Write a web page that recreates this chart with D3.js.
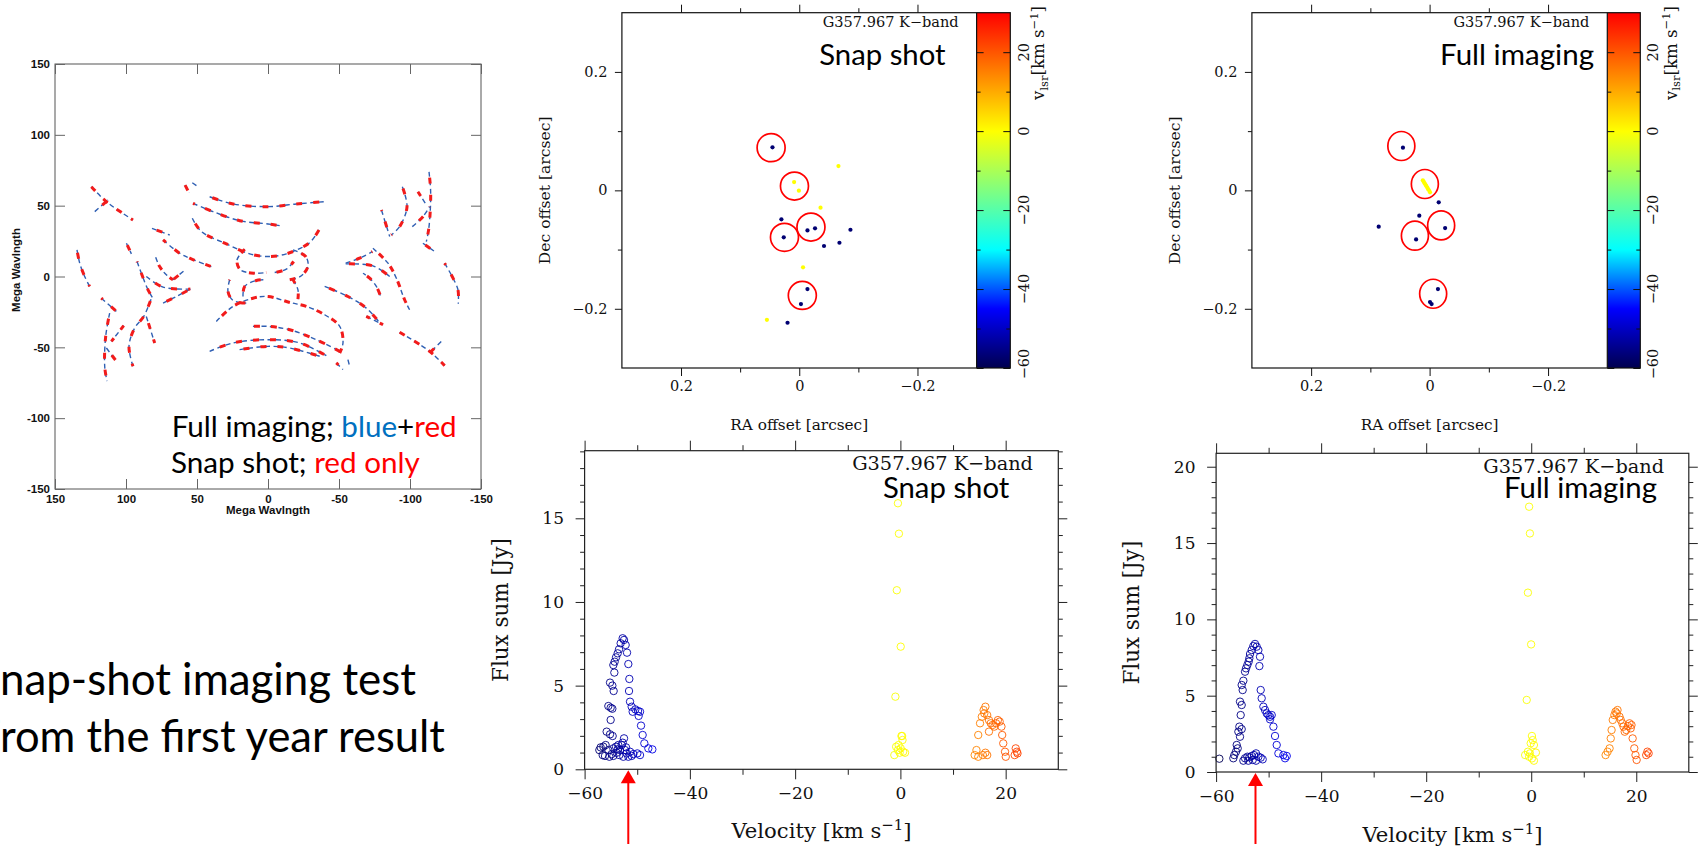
<!DOCTYPE html>
<html>
<head>
<meta charset="utf-8">
<title>Snap-shot imaging test</title>
<script src="https://cdn.jsdelivr.net/npm/d3@7/dist/d3.min.js"></script>
<style>
    html, body { margin: 0; padding: 0; background: #fff; overflow: hidden; }
    svg { display: block; }
</style>
</head>
<body>
<div class="svg-container"></div>
<script>
// ---------------------------------------------------------------
// Data
// ---------------------------------------------------------------

// uv coverage [u, v] in Mega wavelength, one array per baseline track
const uvTicks = [150, 100, 50, 0, -50, -100, -150];
const uvTracks = [
    [[124.4, 63.4], [113.8, 52.8], [95.1, 39.9]],
    [[122.0, 45.8], [112.7, 54.0]],
    [[134.5, 18.8], [132.6, 9.4], [129.1, 0], [125.6, -7.0]],
    [[117.4, -15.3], [106.8, -24.6]],
    [[111.5, -25.8], [114.3, -42.2], [115.0, -63.4], [113.4, -73.9]],
    [[101.6, -34.7], [110.3, -45.8]],
    [[113.8, -50.5], [106.8, -59.8]],
    [[99.7, 23.5], [96.2, 16.0]],
    [[92.2, 10.6], [89.2, 2.3], [84.5, -9.4], [80.5, -16.4]],
    [[81.7, 34.0], [69.2, 29.3]],
    [[73.9, 25.8], [62.2, 16.4], [55.2, 12.9], [39.9, 7.0]],
    [[79.1, 13.6], [76.3, 7.0], [71.6, 1.2], [66.9, -2.3]],
    [[66.9, -2.3], [59.4, 3.8]],
    [[85.7, 0], [73.9, -7.5], [54.7, -8.9]],
    [[73.9, -18.8], [64.5, -14.1], [54.7, -8.9]],
    [[95.1, -63.4], [97.9, -49.3], [93.9, -36.4], [87.5, -28.2], [82.1, -15.3]],
    [[85.7, -28.2], [79.8, -46.9]],
    [[58.4, 64.5], [55.6, 59.1]],
    [[53.3, 66.2], [48.6, 62.9]],
    [[41.1, 56.3], [24.6, 51.2], [0, 49.3], [-19.9, 51.2], [-39.9, 52.8]],
    [[52.8, 51.6], [38.7, 45.8], [19.9, 39.4], [0, 37.1], [-9.4, 35.7]],
    [[53.3, 41.1], [46.9, 31.7], [29.3, 23.0], [12.9, 16.0], [0, 14.1], [-12.9, 16.0], [-29.3, 23.9], [-35.9, 32.9]],
    [[16.4, 19.2], [21.8, 11.7], [19.5, 4.7], [9.4, 2.3], [1.2, 2.8]],
    [[-17.6, 18.8], [-26.5, 14.1], [-28.2, 7.5], [-23.5, 0.5], [-15.3, -2.3]],
    [[-4.7, 2.8], [-12.9, 5.2], [-18.1, 10.6]],
    [[27.0, -2.3], [28.2, -10.6], [24.6, -16.9], [15.3, -18.8]],
    [[17.6, -14.1], [16.4, -7.0], [8.2, -2.8], [1.2, -2.3]],
    [[-17.6, -2.3], [-21.1, -9.4], [-21.1, -16.0]],
    [[36.4, -31.7], [24.6, -21.1], [10.6, -15.3], [0, -14.1], [-15.3, -18.3], [-27.0, -21.1], [-39.9, -27.0], [-50.5, -35.2], [-52.8, -46.9], [-50.5, -54.0]],
    [[10.6, -35.2], [0, -35.2], [-15.3, -37.6], [-34.0, -44.6], [-50.5, -52.8]],
    [[41.1, -52.8], [24.6, -46.9], [0, -44.6], [-22.3, -46.9], [-41.1, -55.9]],
    [[20.0, -51.6], [0, -49.3], [-15.3, -50.5], [-36.4, -56.3]],
    [[-48.1, -61.0], [-52.8, -65.7]],
    [[-56.3, -58.7], [-57.5, -63.4]],
    [[-92.7, -39.4], [-113.8, -52.8], [-124.4, -62.9]],
    [[-122.0, -45.8], [-113.8, -54.0]],
    [[-109.1, 23.5], [-117.4, 17.6]],
    [[-124.4, 9.4], [-130.3, -1.2], [-133.8, -9.4], [-134.0, -19.2]],
    [[-113.4, 73.9], [-114.5, 61.0], [-114.3, 46.9], [-113.1, 32.9], [-111.5, 24.6]],
    [[-105.6, 59.8], [-111.5, 50.5]],
    [[-101.6, 35.2], [-109.1, 42.2], [-113.8, 49.3]],
    [[-94.6, 63.4], [-97.9, 49.3], [-92.7, 35.2], [-86.8, 29.3]],
    [[-79.9, 46.9], [-85.7, 28.2]],
    [[-39.9, -7.0], [-56.3, -14.1], [-69.2, -22.3], [-79.8, -34.0]],
    [[-69.2, -28.2], [-81.0, -34.0]],
    [[-73.9, 19.9], [-84.5, 9.4], [-90.4, -1.2], [-96.2, -16.4], [-99.7, -23.5]],
    [[-79.1, -13.4], [-76.3, -7.0], [-71.6, -1.2], [-66.9, 2.3]],
    [[-54.7, 9.4], [-64.5, 12.9], [-73.5, 17.6]],
    [[-85.7, 0], [-73.9, 7.5], [-54.7, 8.9]]
];

// maser spot maps: [RA offset, Dec offset, vlsr]
const offsetTicks = [0.2, 0, -0.2];
const offsetMinorTicks = [0.1, -0.1];
const barTicks = [20, 0, -20, -40, -60];
const barMinorTicks = [10, -10, -30, -50];
const snapSpots = [
    [0.0453, 0.0727, -57], [-0.0663, 0.041, 0], [0.0087, 0.014, 0], [0.0006, -0.0006, 0],
    [-0.036, -0.0293, 0], [0.0302, -0.049, -57], [-0.0139, -0.0676, -57], [-0.0267, -0.0642, -57],
    [-0.0866, -0.0665, -57], [0.0262, -0.0794, -57], [-0.0419, -0.094, -57], [-0.068, -0.0885, -57],
    [-0.0064, -0.130, 0], [-0.0139, -0.1667, -57], [-0.0029, -0.192, -57], [0.0547, -0.2186, 0],
    [0.0198, -0.2236, -57]
];
const snapCircles = [[0.0476, 0.0721], [0.0081, 0.0073], [-0.0198, -0.062], [0.025, -0.0794], [-0.0052, -0.1775]];
const fullSpots = [
    [0.045, 0.0721, -57], [0.0114, 0.0169, 0], [0.0100, 0.0146, 0], [0.0087, 0.0124, 0],
    [0.0073, 0.0101, 0], [0.006, 0.0079, 0], [0.0040, 0.0050, 0], [0.0027, 0.0023, 0],
    [0.0010, 0.0000, 0], [-0.0007, -0.0034, 0], [-0.0154, -0.0203, -57], [0.0174, -0.0428, -57],
    [0.0859, -0.0614, -57], [-0.0262, -0.0637, -57], [0.0228, -0.0828, -57], [-0.0141, -0.1668, -57],
    [-0.0007, -0.1887, -57], [-0.0034, -0.1921, -57]
];
const fullCircles = [[0.0477, 0.0749], [0.008, 0.0107], [-0.0195, -0.0592], [0.0248, -0.0766], [-0.006, -0.1746]];

// spectra: [velocity, flux sum]
const velocityTicks = [-60, -40, -20, 0, 20];
const velocityMinorTicks = [-50, -30, -10, 10];
const snapFluxTicks = [0, 5, 10, 15];
const fullFluxTicks = [0, 5, 10, 15, 20];
const snapFluxRange = [0, 19.04];
const fullFluxRange = [0, 20.88];
const snapSpectrum = [
    [-52.77, 7.83], [-53.15, 7.53], [-53.46, 7.17], [-53.72, 6.93], [-54.03, 6.69], [-54.29, 6.43],
    [-54.54, 6.23], [-54.35, 5.78], [-55.17, 5.18], [-54.73, 5.00], [-54.48, 4.68], [-55.49, 3.78],
    [-55.05, 3.68], [-54.73, 3.62], [-55.05, 2.95], [-55.81, 2.25], [-55.17, 2.09], [-54.67, 1.99],
    [-52.51, 7.73], [-52.20, 7.43], [-51.94, 6.97], [-51.69, 6.29], [-51.50, 5.40], [-51.56, 4.68],
    [-51.37, 4.04], [-51.06, 3.74], [-50.87, 3.44], [-50.36, 3.58], [-49.85, 3.48], [-49.47, 3.44],
    [-49.73, 3.19], [-49.28, 2.61], [-48.97, 2.05], [-48.65, 1.55], [-47.89, 1.25], [-47.13, 1.19],
    [-56.44, 1.35], [-56.00, 1.45], [-56.57, 0.85], [-56.12, 0.80], [-55.49, 1.15], [-54.86, 0.91],
    [-54.54, 1.25], [-54.03, 1.35], [-53.59, 1.45], [-53.27, 1.15], [-52.77, 1.59], [-52.51, 1.85],
    [-52.96, 1.45], [-53.91, 0.99], [-52.13, 1.31], [-52.01, 0.95], [-51.37, 1.05], [-50.74, 0.91],
    [-49.98, 0.95], [-49.47, 0.85], [-55.30, 0.75], [-54.54, 0.80], [-53.40, 0.85], [-52.64, 0.75],
    [-51.69, 0.75], [-57.20, 1.15], [-56.95, 1.31], [-51.06, 0.80], [-52.32, 1.15], [-53.72, 1.19],
    [-0.47, 15.90], [-0.28, 14.08], [-0.68, 10.70], [0.06, 7.33], [-0.95, 4.34], [0.20, 1.99],
    [0.40, 1.75], [-0.34, 1.45], [-0.81, 1.35], [0.06, 1.25], [0.53, 1.05], [-1.16, 0.85],
    [-0.15, 0.99], [0.88, 0.99], [-0.47, 1.15], [0.33, 1.99],
    [14.11, 0.85], [14.45, 1.15], [14.79, 2.05], [15.13, 2.75], [15.47, 3.14], [15.81, 3.54],
    [16.15, 3.74], [15.94, 3.34], [16.49, 3.24], [16.83, 2.94], [17.17, 2.75], [17.51, 2.65],
    [17.84, 2.55], [18.18, 2.75], [18.52, 2.94], [18.86, 2.85], [19.20, 2.55], [19.34, 2.05],
    [19.54, 1.55], [19.88, 1.05], [20.02, 0.75], [16.49, 0.85], [16.15, 0.99], [15.67, 0.85],
    [14.79, 0.75], [21.91, 1.25], [22.12, 1.05], [21.71, 0.85], [22.25, 0.95], [16.83, 2.25]
];
const fullSpectrum = [
    [-52.59, 8.39], [-52.91, 8.25], [-52.27, 8.21], [-53.22, 7.99], [-51.95, 7.99], [-53.54, 7.73],
    [-53.67, 7.45], [-53.80, 7.23], [-54.05, 7.01], [-54.30, 6.79], [-54.49, 6.57], [-54.81, 5.98],
    [-55.13, 5.70], [-54.94, 5.37], [-55.45, 4.61], [-55.13, 4.39], [-55.32, 3.73], [-55.57, 2.97],
    [-55.13, 2.81], [-55.76, 2.64], [-55.45, 2.31], [-56.08, 1.77], [-55.89, 1.55], [-56.21, 1.33],
    [-56.53, 1.11], [-56.72, 0.90], [-51.64, 7.55], [-51.76, 6.94], [-51.51, 5.37], [-51.32, 4.83],
    [-51.00, 4.28], [-50.68, 4.06], [-50.36, 3.84], [-50.05, 3.73], [-49.73, 3.62], [-49.41, 3.73],
    [-49.73, 3.45], [-49.09, 2.97], [-48.78, 2.36], [-48.46, 1.77], [-48.14, 1.22], [-47.19, 1.11],
    [-46.55, 1.05], [-46.87, 0.90], [-54.49, 0.90], [-54.05, 1.00], [-53.67, 0.96], [-53.22, 1.05],
    [-52.78, 1.11], [-52.40, 1.22], [-51.95, 1.00], [-51.51, 0.94], [-51.13, 0.83], [-53.03, 0.79],
    [-52.40, 0.74], [-53.86, 0.74], [-54.81, 0.74], [-59.38, 0.87],
    [-0.40, 17.38], [-0.25, 15.63], [-0.63, 11.75], [-0.02, 8.36], [-0.86, 4.72], [0.13, 2.36],
    [0.28, 2.09], [-0.10, 1.88], [0.51, 1.77], [-0.63, 1.33], [-1.16, 1.11], [-0.25, 1.22],
    [0.89, 1.27], [0.13, 0.89], [0.51, 0.74], [-0.40, 1.00],
    [14.16, 1.11], [14.54, 1.33], [14.92, 1.55], [15.14, 2.20], [15.30, 2.75], [15.52, 3.41],
    [15.83, 3.73], [16.05, 3.95], [16.43, 4.06], [16.28, 3.84], [16.81, 3.62], [17.04, 3.41],
    [17.34, 3.19], [17.57, 2.97], [17.80, 2.64], [18.10, 2.75], [18.41, 3.01], [18.71, 3.19],
    [19.09, 3.08], [18.94, 2.86], [19.31, 2.20], [19.62, 1.55], [19.85, 1.11], [20.07, 0.79],
    [22.12, 1.33], [22.35, 1.22], [21.89, 1.11]
];
// velocity marked with the red arrow [snap shot, full imaging]
const markedVelocity = [-51.7, -52.5];

/**
 * Slide Manager
 *          draws the uv coverage, the two spot maps and the two spectra
 */
const slideManager = (() => {
    // Constant
    const SCREEN = { WIDTH: 1704, HEIGHT: 846 };
    const SERIF = '"DejaVu Serif", serif';
    const SANS = 'Lato, "Open Sans", sans-serif';
    const ARIAL = '"Liberation Sans", Arial, sans-serif';
    const MAP = { TOP: 12.7, BOTTOM: 368 };

    // jet colour table used by the colour bars and by the markers
    const JET = [[-60, '#00004f'], [-45, '#0000ff'], [-30, '#00ffff'], [-15, '#80ff80'],
                 [0, '#ffff00'], [15, '#ff8000'], [30, '#ff0000']];
    const jet = d3.scaleLinear()
                  .domain(JET.map(d => d[0]))
                  .range(JET.map(d => d[1]))
                  .clamp(true);

    const fmtOffset = d => d === 0 ? '0' : d3.format('.1f')(d);

    /**
     * Init SVG
     * @return {Object} svg
     */
    const initSVG = () => {
        let svg = d3.select('.svg-container').append('svg')
                    .attr('width', SCREEN.WIDTH)
                    .attr('height', SCREEN.HEIGHT);
        svg.append('rect').attr('width', SCREEN.WIDTH).attr('height', SCREEN.HEIGHT).attr('fill', '#fff');
        svg.append('defs');
        return svg;
    };

    /**
     * Scale the font size so the text takes the given width
     */
    const fitText = (sel, width) => {
        const len = sel.node().getComputedTextLength();
        if (len > 0) sel.attr('font-size', (+sel.attr('font-size')) * width / len);
        return sel;
    };

    /**
     * Append a text, rotated or not
     */
    const addText = (g, o) => {
        let t = g.append('text')
                 .attr('font-family', o.family || SERIF)
                 .attr('font-size', o.size)
                 .attr('fill', o.fill || '#111')
                 .attr('text-anchor', o.anchor || 'start')
                 .style('white-space', 'pre');
        if (o.rotate) {
            t.attr('transform', `translate(${o.x},${o.y}) rotate(-90)`).attr('dy', '0.35em');
        } else {
            t.attr('x', o.x).attr('y', o.y);
        }
        if (o.text) t.text(o.text);
        return t;
    };

    const velocityLabel = (g, o) => {
        let t = addText(g, o);
        t.append('tspan').text('Velocity [km s');
        t.append('tspan').text('\u22121').style('font-size', '70%').attr('dy', '-0.55em');
        t.append('tspan').text(']').attr('dy', '0.385em');
        return fitText(t, o.width);
    };

    const vlsrLabel = (g, o) => {
        let t = addText(g, o);
        t.append('tspan').text('v');
        t.append('tspan').text('lsr').style('font-size', '70%').attr('dy', '0.3em');
        t.append('tspan').text('[km s').attr('dy', '-0.21em');
        t.append('tspan').text('\u22121').style('font-size', '70%').attr('dy', '-0.55em');
        t.append('tspan').text(']').attr('dy', '0.385em');
        return fitText(t, o.width);
    };

    /**
     * Draw an axis, strip the domain line and the empty labels
     */
    const drawAxis = (g, axis, transform, stroke = '#111') => {
        let a = g.append('g').attr('transform', transform).call(axis);
        a.select('.domain').remove();
        a.selectAll('.tick line').attr('stroke', stroke).attr('stroke-width', 1);
        a.selectAll('.tick text').filter(function () { return this.textContent === ''; }).remove();
        return a;
    };

    /**
     * uv coverage
     */
    const drawUV = (svg) => {
        const box = { left: 55, right: 481, top: 64, bottom: 489 };
        const x = d3.scaleLinear().domain([150, -150]).range([box.left, box.right]);
        const y = d3.scaleLinear().domain([150, -150]).range([box.top, box.bottom]);
        let g = svg.append('g').attr('id', 'uv-plot');

        const line = d3.line().x(d => x(d[0])).y(d => y(d[1])).curve(d3.curveCatmullRom);

        // full imaging tracks
        g.selectAll('.track').data(uvTracks).enter()
         .append('path')
         .attr('d', line)
         .attr('fill', 'none')
         .attr('stroke', '#2f5fb3')
         .attr('stroke-width', 1.4)
         .attr('stroke-dasharray', '5,3.5');

        // snap shot scans on top
        g.selectAll('.snap').data(uvTracks).enter()
         .append('path')
         .attr('d', line)
         .attr('fill', 'none')
         .attr('stroke', '#f21b1b')
         .attr('stroke-width', 3)
         .attr('stroke-dasharray', '6,11')
         .attr('stroke-dashoffset', (d, i) => (i * 7) % 17);

        g.append('rect')
         .attr('x', box.left).attr('y', box.top)
         .attr('width', box.right - box.left).attr('height', box.bottom - box.top)
         .attr('fill', 'none').attr('stroke', '#555').attr('stroke-width', 1);

        const fmt = d => String(d);
        let bottom = drawAxis(g, d3.axisBottom(x).tickValues(uvTicks).tickSize(-10).tickFormat(fmt), `translate(0,${box.bottom})`, '#666');
        bottom.selectAll('text').attr('y', 14).attr('dy', null);
        drawAxis(g, d3.axisTop(x).tickValues(uvTicks).tickSize(-10).tickFormat(''), `translate(0,${box.top})`, '#666');
        let left = drawAxis(g, d3.axisLeft(y).tickValues(uvTicks).tickSize(-10).tickFormat(fmt), `translate(${box.left},0)`, '#666');
        left.selectAll('text').attr('x', -5);
        drawAxis(g, d3.axisRight(y).tickValues(uvTicks).tickSize(-10).tickFormat(''), `translate(${box.right},0)`, '#666');
        g.selectAll('.tick text')
         .attr('font-family', ARIAL).attr('font-size', 11.5).attr('font-weight', 'bold').attr('fill', '#111');

        addText(g, { x: (box.left + box.right) / 2, y: 514, size: 11.5, family: ARIAL, anchor: 'middle', text: 'Mega Wavlngth' })
            .attr('font-weight', 'bold');
        addText(g, { x: 16, y: 270, size: 11.5, family: ARIAL, anchor: 'middle', rotate: true, text: 'Mega Wavlngth' })
            .attr('font-weight', 'bold');

        // legend written on the slide
        let l1 = addText(g, { x: 171.7, y: 436.7, size: 29, family: SANS, fill: '#000' });
        l1.append('tspan').text('Full imaging; ');
        l1.append('tspan').text('blue').attr('fill', '#0070c0');
        l1.append('tspan').text('+');
        l1.append('tspan').text('red').attr('fill', '#ff0000');
        fitText(l1, 285);
        let l2 = addText(g, { x: 171, y: 473.3, size: 29, family: SANS, fill: '#000' });
        l2.append('tspan').text('Snap shot; ');
        l2.append('tspan').text('red only').attr('fill', '#ff0000');
        fitText(l2, 249);
    };

    /**
     * Spot map with colour bar
     */
    const drawMap = (svg, cfg) => {
        const x = d3.scaleLinear().domain([0.3, -0.3]).range([cfg.left, cfg.right]);
        const y = d3.scaleLinear().domain([-0.3, 0.3]).range([MAP.BOTTOM, MAP.TOP]);
        const v = d3.scaleLinear().domain([-60, 30]).range([MAP.BOTTOM, MAP.TOP]);
        let g = svg.append('g').attr('id', `map-${cfg.id}`);

        // colour bar
        let grad = svg.select('defs').append('linearGradient')
                      .attr('id', `bar-${cfg.id}`)
                      .attr('x1', 0).attr('y1', 1).attr('x2', 0).attr('y2', 0);
        grad.selectAll('stop').data(JET).enter().append('stop')
            .attr('offset', d => (v(-60) - v(d[0])) / (v(-60) - v(30)))
            .attr('stop-color', d => d[1]);
        g.append('rect')
         .attr('x', cfg.right).attr('y', MAP.TOP)
         .attr('width', cfg.barRight - cfg.right).attr('height', MAP.BOTTOM - MAP.TOP)
         .attr('fill', `url(#bar-${cfg.id})`);

        drawAxis(g, d3.axisRight(v).tickValues(barTicks).tickSize(7).tickFormat(''), `translate(${cfg.right},0)`);
        drawAxis(g, d3.axisRight(v).tickValues(barMinorTicks).tickSize(4).tickFormat(''), `translate(${cfg.right},0)`);
        drawAxis(g, d3.axisLeft(v).tickValues(barTicks).tickSize(7).tickFormat(''), `translate(${cfg.barRight},0)`);
        drawAxis(g, d3.axisLeft(v).tickValues(barMinorTicks).tickSize(4).tickFormat(''), `translate(${cfg.barRight},0)`);

        g.selectAll('.bar-label').data(barTicks).enter()
         .append('text')
         .attr('transform', d => `translate(${cfg.barLabelX},${Math.min(v(d), MAP.BOTTOM - 4)}) rotate(-90)`)
         .attr('dy', '0.35em')
         .attr('text-anchor', 'middle')
         .attr('font-family', SERIF).attr('font-size', 14.5).attr('fill', '#111')
         .text(d => d3.format('d')(d));
        vlsrLabel(g, { x: cfg.barTitleX, y: 53, size: 14, rotate: true, anchor: 'middle', width: 94 });

        // spots and red circles
        g.selectAll('.spot').data(cfg.spots).enter()
         .append('circle')
         .attr('cx', d => x(d[0])).attr('cy', d => y(d[1]))
         .attr('r', 2.1)
         .attr('fill', d => jet(d[2]));
        g.selectAll('.ring').data(cfg.circles).enter()
         .append('ellipse')
         .attr('cx', d => x(d[0])).attr('cy', d => y(d[1]))
         .attr('rx', cfg.rx).attr('ry', cfg.ry)
         .attr('fill', 'none').attr('stroke', '#ff0000').attr('stroke-width', 1.7);

        // frame and ticks
        g.append('rect')
         .attr('x', cfg.left).attr('y', MAP.TOP)
         .attr('width', cfg.barRight - cfg.left).attr('height', MAP.BOTTOM - MAP.TOP)
         .attr('fill', 'none').attr('stroke', '#111').attr('stroke-width', 1.2);
        g.append('line')
         .attr('x1', cfg.right).attr('x2', cfg.right).attr('y1', MAP.TOP).attr('y2', MAP.BOTTOM)
         .attr('stroke', '#111').attr('stroke-width', 1.2);

        let bx = drawAxis(g, d3.axisBottom(x).tickValues(offsetTicks).tickSize(8).tickFormat(fmtOffset), `translate(0,${MAP.BOTTOM})`);
        bx.selectAll('text').attr('y', 23).attr('dy', null);
        drawAxis(g, d3.axisBottom(x).tickValues(offsetMinorTicks).tickSize(4.5).tickFormat(''), `translate(0,${MAP.BOTTOM})`);
        drawAxis(g, d3.axisTop(x).tickValues(offsetTicks).tickSize(8).tickFormat(''), `translate(0,${MAP.TOP})`);
        drawAxis(g, d3.axisTop(x).tickValues(offsetMinorTicks).tickSize(4.5).tickFormat(''), `translate(0,${MAP.TOP})`);
        let ly = drawAxis(g, d3.axisLeft(y).tickValues(offsetTicks).tickSize(7).tickFormat(fmtOffset), `translate(${cfg.left},0)`);
        ly.selectAll('text').attr('x', -14.5);
        drawAxis(g, d3.axisLeft(y).tickValues(offsetMinorTicks).tickSize(4).tickFormat(''), `translate(${cfg.left},0)`);
        g.selectAll('.tick text').attr('font-family', SERIF).attr('font-size', 14.5).attr('fill', '#111');

        fitText(addText(g, { x: cfg.decX, y: (MAP.TOP + MAP.BOTTOM) / 2, size: 14, rotate: true, anchor: 'middle', text: 'Dec offset [arcsec]' }), 148);
        fitText(addText(g, { x: (cfg.left + cfg.right) / 2, y: 430, size: 14, anchor: 'middle', text: 'RA offset [arcsec]' }), 138);

        fitText(addText(g, { x: cfg.right - 18, y: 27.3, size: 15, anchor: 'end', text: 'G357.967 K\u2212band' }), 136);
        fitText(addText(g, { x: cfg.titleEnd, y: 65, size: 27, family: SANS, anchor: 'end', fill: '#000', text: cfg.title }), cfg.titleWidth);
    };

    /**
     * Flux spectrum with the red arrow
     */
    const drawSpectrum = (svg, cfg) => {
        const x = d3.scaleLinear().domain([-60, 30]).range([cfg.left, cfg.right]);
        const y = d3.scaleLinear().domain(cfg.range).range([cfg.bottom, cfg.top]);
        let g = svg.append('g').attr('id', `spec-${cfg.id}`);

        g.selectAll('.chan').data(cfg.data).enter()
         .append('circle')
         .attr('cx', d => x(d[0])).attr('cy', d => y(d[1]))
         .attr('r', 3.7)
         .attr('fill', 'none')
         .attr('stroke', d => jet(d[0]))
         .attr('stroke-width', 0.9);

        g.append('rect')
         .attr('x', cfg.left).attr('y', cfg.top)
         .attr('width', cfg.right - cfg.left).attr('height', cfg.bottom - cfg.top)
         .attr('fill', 'none').attr('stroke', '#222').attr('stroke-width', 1.2);

        const minorFlux = d3.range(1, cfg.range[1], 1).filter(d => d % 5 !== 0);
        let bx = drawAxis(g, d3.axisBottom(x).tickValues(velocityTicks).tickSize(10).tickFormat(d3.format('d')), `translate(0,${cfg.bottom})`, '#222');
        bx.selectAll('text').attr('y', cfg.xLabelDy).attr('dy', null);
        drawAxis(g, d3.axisBottom(x).tickValues(velocityMinorTicks).tickSize(5.5).tickFormat(''), `translate(0,${cfg.bottom})`, '#222');
        drawAxis(g, d3.axisTop(x).tickValues(velocityTicks).tickSize(10).tickFormat(''), `translate(0,${cfg.top})`, '#222');
        drawAxis(g, d3.axisTop(x).tickValues(velocityMinorTicks).tickSize(5.5).tickFormat(''), `translate(0,${cfg.top})`, '#222');
        let ly = drawAxis(g, d3.axisLeft(y).tickValues(cfg.ticks).tickSize(9).tickFormat(d3.format('d')), `translate(${cfg.left},0)`, '#222');
        ly.selectAll('text').attr('x', -20.6);
        drawAxis(g, d3.axisLeft(y).tickValues(minorFlux).tickSize(4.5).tickFormat(''), `translate(${cfg.left},0)`, '#222');
        drawAxis(g, d3.axisRight(y).tickValues(cfg.ticks).tickSize(9).tickFormat(''), `translate(${cfg.right},0)`, '#222');
        drawAxis(g, d3.axisRight(y).tickValues(minorFlux).tickSize(4.5).tickFormat(''), `translate(${cfg.right},0)`, '#222');
        g.selectAll('.tick text').attr('font-family', SERIF).attr('font-size', 17).attr('fill', '#111');

        fitText(addText(g, { x: cfg.fluxX, y: (cfg.top + cfg.bottom) / 2, size: 17, rotate: true, anchor: 'middle', text: 'Flux sum [Jy]' }), 144);
        velocityLabel(g, { x: (cfg.left + cfg.right) / 2, y: cfg.velY, size: 17, anchor: 'middle', width: 180 });

        fitText(addText(g, { x: cfg.tagEnd, y: cfg.tagY, size: 18, anchor: 'end', text: 'G357.967 K\u2212band' }), 181);
        fitText(addText(g, { x: cfg.titleEnd, y: 498.3, size: 27, family: SANS, anchor: 'end', fill: '#000', text: cfg.title }), cfg.titleWidth);

        // red arrow
        const ax = x(cfg.arrow);
        g.append('line')
         .attr('x1', ax).attr('x2', ax)
         .attr('y1', 844).attr('y2', cfg.bottom + 12)
         .attr('stroke', '#ff0000').attr('stroke-width', 2);
        g.append('path')
         .attr('d', `M${ax},${cfg.bottom + 1}L${ax - 7.5},${cfg.bottom + 14}L${ax + 7.5},${cfg.bottom + 14}Z`)
         .attr('fill', '#ff0000');
    };

    /**
     * Slide caption, partly cut by the left edge
     */
    const drawCaption = (svg) => {
        const lines = [
            { text: 'Snap-shot imaging test', y: 695, visible: 416 },
            { text: 'from the first year result', y: 751.7, visible: 445 }
        ];
        lines.forEach(l => {
            let t = addText(svg, { x: 0, y: l.y, size: 44, family: SANS, fill: '#000', text: l.text });
            const sub = t.node().getSubStringLength(1, l.text.length - 1);
            t.attr('font-size', 44 * l.visible / sub);
            t.attr('x', -t.node().getSubStringLength(0, 1));
        });
    };

    /**
     * Init
     */
    const init = () => {
        let svg = initSVG();
        drawUV(svg);
        drawCaption(svg);
        drawMap(svg, {
            id: 'snap', left: 621.9, right: 976.6, barRight: 1010.3, barLabelX: 1024.3, barTitleX: 1038.3,
            decX: 544.7, spots: snapSpots, circles: snapCircles, rx: 14, ry: 14,
            title: 'Snap shot', titleEnd: 945.6, titleWidth: 126.4
        });
        drawMap(svg, {
            id: 'full', left: 1251.9, right: 1607.3, barRight: 1640.3, barLabelX: 1653, barTitleX: 1671,
            decX: 1174.3, spots: fullSpots, circles: fullCircles, rx: 13.5, ry: 14.5,
            title: 'Full imaging', titleEnd: 1594, titleWidth: 154
        });
        drawSpectrum(svg, {
            id: 'snap', left: 584.6, right: 1058.3, top: 450.7, bottom: 769.3,
            range: snapFluxRange, ticks: snapFluxTicks, data: snapSpectrum, arrow: markedVelocity[0],
            xLabelDy: 29.4, fluxX: 500.7, velY: 838, tagEnd: 1033, tagY: 470,
            title: 'Snap shot', titleEnd: 1009.3, titleWidth: 126.4
        });
        drawSpectrum(svg, {
            id: 'full', left: 1216.1, right: 1688.8, top: 453.3, bottom: 772,
            range: fullFluxRange, ticks: fullFluxTicks, data: fullSpectrum, arrow: markedVelocity[1],
            xLabelDy: 29.7, fluxX: 1131.7, velY: 841.7, tagEnd: 1664.2, tagY: 473.3,
            title: 'Full imaging', titleEnd: 1657, titleWidth: 153
        });
    };

    return {
        init: init
    };
})();

slideManager.init();
</script>
</body>
</html>
